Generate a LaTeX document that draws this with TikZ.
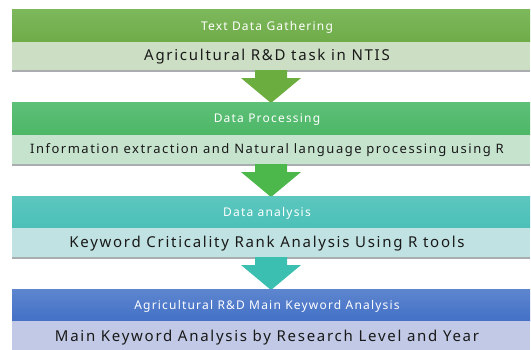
\documentclass[tikz,border=0pt]{standalone}
\usepackage{fontspec}
\setmainfont{Noto Sans}
\newfontfamily\widefont[LetterSpace=10]{Noto Sans}
\newfontfamily\widerfont[LetterSpace=11.5]{Noto Sans}
\usetikzlibrary{calc,backgrounds}
\definecolor{hAtop}{HTML}{7DB85C}
\definecolor{hAbot}{HTML}{6FAC48}
\definecolor{bA}{HTML}{CCDFC4}
\definecolor{hBtop}{HTML}{5DC078}
\definecolor{hBbot}{HTML}{4DB766}
\definecolor{bB}{HTML}{C6E3CE}
\definecolor{hCtop}{HTML}{5CC7BF}
\definecolor{hCbot}{HTML}{4BC0B7}
\definecolor{bC}{HTML}{C1E2E2}
\definecolor{hDtop}{HTML}{5E86CF}
\definecolor{hDbot}{HTML}{4370C6}
\definecolor{bD}{HTML}{C1C9E6}
\definecolor{arA}{HTML}{6CAD3F}
\definecolor{arB}{HTML}{4CB84B}
\definecolor{arC}{HTML}{3BBFB1}
\definecolor{shadowc}{HTML}{A9ADB0}
\begin{document}
\begin{tikzpicture}[x=1pt,y=-1pt,
  box/.style={rectangle,inner sep=0pt,outer sep=0pt,draw=none,minimum width=518pt,anchor=north west},
  htext/.style={text=white,font=\widefont\fontsize{12}{14}\selectfont,inner sep=0pt},
  btext/.style={text=black!90,font=\widerfont\fontsize{15}{17}\selectfont,inner sep=0pt}]
\useasboundingbox (0,0) rectangle (531,349);
\clip (0,0) rectangle (531,349);
% boxes
\node[box,minimum height=33pt,top color=hAtop,bottom color=hAbot] (h1) at (12,9) {};
\node[box,minimum height=28pt,fill=bA] (b1) at (12,42) {};
\node[box,minimum height=33pt,top color=hBtop,bottom color=hBbot] (h2) at (12,102) {};
\node[box,minimum height=29pt,fill=bB] (b2) at (12,135) {};
\node[box,minimum height=32pt,top color=hCtop,bottom color=hCbot] (h3) at (12,196) {};
\node[box,minimum height=29pt,fill=bC] (b3) at (12,228) {};
\node[box,minimum height=32pt,top color=hDtop,bottom color=hDbot] (h4) at (12,289) {};
\node[box,minimum height=34pt,fill=bD] (b4) at (12,321) {};
% texts
\node[htext] (t1) at (267,27) {Text Data Gathering};
\node[btext] (s1) at (267,57) {Agricultural R\&D task in NTIS};
\node[htext] (t2) at (267,120) {Data Processing};
\node[btext,font=\widerfont\fontsize{13}{15}\selectfont] (s2) at (267,150.5) {Information extraction and Natural language processing using R};
\node[htext] (t3) at (267,213.5) {Data analysis};
\node[btext] (s3) at (267,243.5) {Keyword Criticality Rank Analysis Using R tools};
\node[htext] (t4) at (267,306.5) {Agricultural R\&D Main Keyword Analysis};
\node[btext] (s4) at (267,338) {Main Keyword Analysis by Research Level and Year};
\begin{scope}[on background layer]
\foreach \b in {b1,b2,b3}{
  \fill[shadowc] (\b.south west) rectangle ($(\b.south east)+(0,2)$);
}
\foreach \c/\f/\t in {arA/b1/h2,arB/b2/h3,arC/b3/h4}{
  \fill[\c] let \p1=(\f.south), \p2=(\t.north) in
    (\x1-16pt,\y1) -- (\x1-16pt,\y2+24pt) -- (\x1-30pt,\y2+24pt) -- (\x1,\y2-1pt)
    -- (\x1+30pt,\y2+24pt) -- (\x1+16pt,\y2+24pt) -- (\x1+16pt,\y1) -- cycle;
}
\end{scope}
\end{tikzpicture}
\end{document}
